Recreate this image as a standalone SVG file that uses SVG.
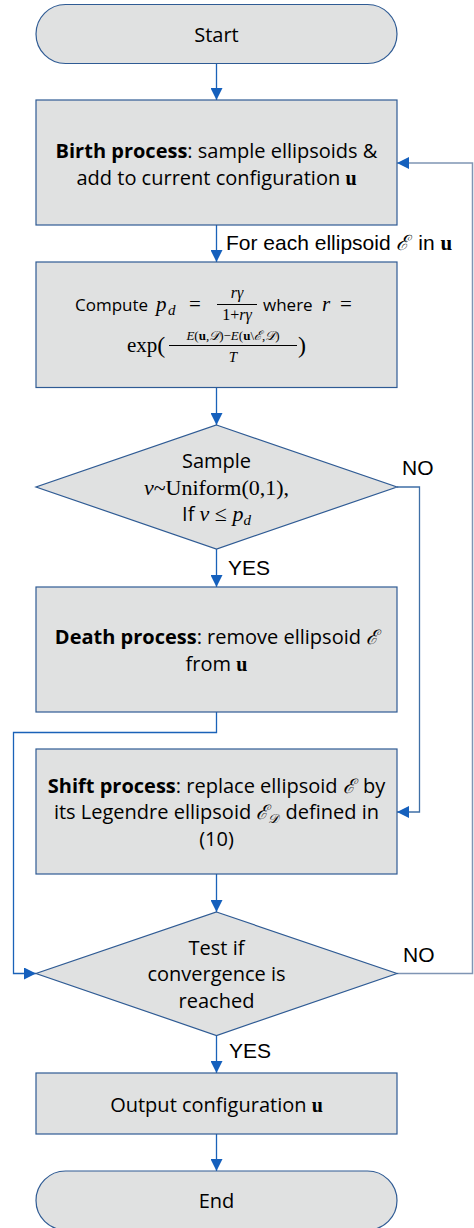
<svg xmlns="http://www.w3.org/2000/svg" width="474" height="1228" viewBox="0 0 474 1228">
<style>
.box{fill:#e0e1e1;stroke:#2f5b94;stroke-width:1.2}
.t{font-family:"Open Sans","Noto Sans",sans-serif;font-size:20px;fill:#000}
.s17{font-size:17px}
.m{font-family:"Liberation Serif","DejaVu Serif",serif}
.i{font-style:italic}
.b{font-weight:bold}
.lbl{font-family:"Liberation Sans",Arial,sans-serif;font-size:21px;fill:#000}
.c{fill:none;stroke:#1a62b8;stroke-width:1.3}
.c2{fill:none;stroke:#7f95b4;stroke-width:1.5}
.c3{fill:none;stroke:#3f6fa6;stroke-width:1.3}
</style>
<defs>
<marker id="ah" markerUnits="userSpaceOnUse" markerWidth="12" markerHeight="12" refX="12" refY="6" orient="auto">
<path d="M0,0 L12,6 L0,12 z" fill="#1560bd"/>
</marker>
</defs>
<g id="connectors">
<path class="c" d="M216.5,63.5 V100" marker-end="url(#ah)"/>
<path class="c" d="M216.5,225 V262" marker-end="url(#ah)"/>
<path class="c" d="M216.5,388 V425" marker-end="url(#ah)"/>
<path class="c" d="M216.5,549 V587" marker-end="url(#ah)"/>
<path class="c3" d="M397,487 H419.5 V812 H397" marker-end="url(#ah)"/>
<path class="c" d="M216.5,712 V732.5 H13.5 V973.5 H36" marker-end="url(#ah)"/>
<path class="c" d="M216.5,874 V912" marker-end="url(#ah)"/>
<path class="c2" d="M397,973.5 H472.5 V163 H397" marker-end="url(#ah)"/>
<path class="c" d="M216.5,1036 V1073" marker-end="url(#ah)"/>
<path class="c" d="M216.5,1134 V1171" marker-end="url(#ah)"/>
<text class="lbl" x="226" y="250">For each ellipsoid <tspan class="m i" font-family="DejaVu Serif">ℰ</tspan><tspan dx="3"> in </tspan><tspan class="m b">u</tspan></text>
<text class="lbl" x="402" y="475">NO</text>
<text class="lbl" x="228" y="575">YES</text>
<text class="lbl" x="403" y="962">NO</text>
<text class="lbl" x="229" y="1058">YES</text>
</g>
<g id="start">
<rect class="box" x="36" y="4.5" width="361" height="59" rx="29.5"/>
<text class="t" x="216.5" y="42" text-anchor="middle">Start</text>
</g>
<g id="birth">
<rect class="box" x="36" y="100" width="361" height="125"/>
<text class="t" x="216.5" y="158" text-anchor="middle"><tspan class="b">Birth process</tspan>: sample ellipsoids &amp;</text>
<text class="t" x="216.5" y="185" text-anchor="middle">add to current configuration <tspan class="m b">u</tspan></text>
</g>
<g id="compute">
<rect class="box" x="36" y="262" width="361" height="125.5"/>
<text class="t s17" x="75" y="311">Compute</text>
<text class="m i" x="156" y="311" font-size="21">p</text>
<text class="m i" x="168" y="315" font-size="15">d</text>
<text class="m" x="189" y="311" font-size="21">=</text>
<text class="m i" x="237" y="298" font-size="16" text-anchor="middle">rγ</text>
<line x1="217" y1="304.5" x2="257" y2="304.5" stroke="#000" stroke-width="1"/>
<text class="m" x="237" y="320" font-size="16" text-anchor="middle">1+<tspan class="i">rγ</tspan></text>
<text class="t s17" x="263" y="311">where</text>
<text class="m i" x="322" y="311" font-size="21">r</text>
<text class="m" x="340" y="311" font-size="21">=</text>
<text class="m" x="127" y="352" font-size="21">exp<tspan font-size="24" dy="1">(</tspan></text>
<text class="m" x="233" y="340" font-size="13" text-anchor="middle"><tspan class="i">E</tspan>(<tspan class="b">u</tspan>,<tspan class="i" font-family="DejaVu Serif">𝒟</tspan>)−<tspan class="i">E</tspan>(<tspan class="b">u</tspan>\<tspan class="i" font-family="DejaVu Serif">ℰ</tspan>,<tspan class="i" font-family="DejaVu Serif">𝒟</tspan>)</text>
<line x1="169" y1="345.5" x2="297" y2="345.5" stroke="#000" stroke-width="1"/>
<text class="m i" x="233" y="362" font-size="15" text-anchor="middle">T</text>
<text class="m" x="298" y="353" font-size="24">)</text>
</g>
<g id="decision1">
<polygon class="box" points="216.5,425 397,487 216.5,549 36,487"/>
<text class="t" x="216.5" y="468" text-anchor="middle">Sample</text>
<text class="m" x="216.5" y="495" font-size="22" text-anchor="middle"><tspan class="i">v</tspan>~Uniform(0,1),</text>
<text class="t" x="216.5" y="521" text-anchor="middle">If <tspan class="m i" font-size="22">v</tspan><tspan class="m" font-size="22"> ≤ </tspan><tspan class="m i" font-size="22">p</tspan><tspan class="m i" font-size="15" dy="4">d</tspan></text>
</g>
<g id="death">
<rect class="box" x="36" y="587" width="361" height="125"/>
<text class="t" x="216.5" y="644" text-anchor="middle"><tspan class="b">Death process</tspan>: remove ellipsoid <tspan class="m i" font-family="DejaVu Serif">ℰ</tspan></text>
<text class="t" x="216.5" y="671" text-anchor="middle">from <tspan class="m b">u</tspan></text>
</g>
<g id="shift">
<rect class="box" x="36" y="749" width="361" height="125"/>
<text class="t" x="216.5" y="793" text-anchor="middle"><tspan class="b">Shift process</tspan>: replace ellipsoid <tspan class="m i" font-family="DejaVu Serif">ℰ</tspan><tspan dx="3"> by</tspan></text>
<text class="t" x="216.5" y="819" text-anchor="middle">its Legendre ellipsoid <tspan class="m i" font-family="DejaVu Serif">ℰ</tspan><tspan class="m i" font-family="DejaVu Serif" font-size="13" dy="4">𝒟</tspan><tspan dy="-4" dx="2"> defined in</tspan></text>
<text class="t" x="216.5" y="846" text-anchor="middle">(10)</text>
</g>
<g id="decision2">
<polygon class="box" points="216.5,912 397,973.5 216.5,1035.5 36,973.5"/>
<text class="t" x="216.5" y="955" text-anchor="middle">Test if</text>
<text class="t" x="216.5" y="981" text-anchor="middle">convergence is</text>
<text class="t" x="216.5" y="1008" text-anchor="middle">reached</text>
</g>
<g id="output">
<rect class="box" x="36" y="1073" width="361" height="61"/>
<text class="t" x="216.5" y="1112" text-anchor="middle">Output configuration <tspan class="m b">u</tspan></text>
</g>
<g id="end">
<rect class="box" x="36" y="1171" width="361" height="59" rx="29.5"/>
<text class="t" x="216.5" y="1208" text-anchor="middle">End</text>
</g>
</svg>
